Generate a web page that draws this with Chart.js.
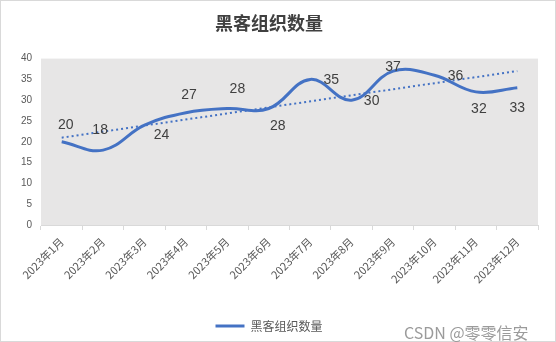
<!DOCTYPE html>
<html>
<head>
<meta charset="utf-8">
<script src="https://cdn.jsdelivr.net/npm/chart.js@4.4.0/dist/chart.umd.min.js"></script>
<style>
  html, body { margin: 0; padding: 0; background: #fff; }
  #wrap { position: relative; width: 556px; height: 342px; }
  #frame { position: absolute; left: 0; top: 0; width: 556px; height: 342px; box-sizing: border-box; border: 1px solid #d9d9d9; pointer-events: none; }
  #mark { position: absolute; left: 404px; top: 320px; font: 16px "Noto Sans CJK SC", "Noto Sans", sans-serif; color: #9b9b9b; white-space: nowrap; }
</style>
</head>
<body>
<div id="wrap">
  <canvas id="chart" width="556" height="342"></canvas>
  <div id="frame"></div>
  <div id="mark">CSDN @零零信安</div>
</div>
<script>
// 数据
const months = ['2023年1月', '2023年2月', '2023年3月', '2023年4月', '2023年5月', '2023年6月',
  '2023年7月', '2023年8月', '2023年9月', '2023年10月', '2023年11月', '2023年12月'];
const hackerGroups = [20, 18, 24, 27, 28, 28, 35, 30, 37, 36, 32, 33];
// 趋势线两端
const trendLine = [21, null, null, null, null, null, null, null, null, null, null, 37];
const yTicks = [0, 5, 10, 15, 20, 25, 30, 35, 40];

// 数据标签偏移（相对于点）
const labelShift = [[4, -17], [-3, -20], [17, 10], [3, -18], [10, -19], [9, 18],
  [21, 1], [20, 1], [0, -4], [21, 1], [3, 17], [0, 20]];

const plotBg = {
  id: 'plotBg',
  beforeDraw(chart) {
    const { ctx, chartArea: a } = chart;
    ctx.save();
    ctx.fillStyle = '#e7e6e6';
    ctx.fillRect(a.left, a.top, a.right - a.left, a.bottom - a.top);
    ctx.restore();
  }
};

const valueLabels = {
  id: 'valueLabels',
  afterDatasetsDraw(chart) {
    const ctx = chart.ctx;
    const meta = chart.getDatasetMeta(0);
    ctx.save();
    ctx.font = '14px "Liberation Sans", Arial, sans-serif';
    ctx.fillStyle = '#404040';
    ctx.textAlign = 'center';
    ctx.textBaseline = 'middle';
    meta.data.forEach((pt, i) => {
      const s = labelShift[i];
      ctx.fillText(String(hackerGroups[i]), pt.x + s[0], pt.y + s[1]);
    });
    ctx.restore();
  }
};

new Chart(document.getElementById('chart'), {
  type: 'line',
  data: {
    labels: months,
    datasets: [
      {
        label: '黑客组织数量',
        data: hackerGroups,
        borderColor: '#4472c4',
        backgroundColor: '#4472c4',
        borderWidth: 3,
        tension: 0.4,
        pointRadius: 0,
        fill: false
      },
      {
        label: 'trend',
        data: trendLine,
        borderColor: '#4472c4',
        borderWidth: 2,
        borderDash: [2, 3],
        pointRadius: 0,
        spanGaps: true,
        tension: 0,
        fill: false
      }
    ]
  },
  options: {
    responsive: false,
    animation: false,
    layout: { padding: { left: 0, right: 18, top: 0, bottom: 0 } },
    scales: {
      x: {
        offset: true,
        grid: { offset: true, drawOnChartArea: false, drawTicks: true, tickLength: 5, color: '#d9d9d9' },
        border: { display: true, color: '#d9d9d9' },
        ticks: {
          color: '#595959',
          font: { size: 11, family: '"Noto Sans CJK SC", sans-serif' },
          maxRotation: 45,
          minRotation: 45,
          autoSkip: false,
          padding: 5
        },
        afterFit(scale) { scale.height = 86; }
      },
      y: {
        min: 0,
        max: 40,
        afterBuildTicks(scale) { scale.ticks = yTicks.map(v => ({ value: v })); },
        grid: { display: false, drawTicks: false },
        border: { display: false },
        ticks: {
          color: '#595959',
          font: { size: 10, family: '"Liberation Sans", Arial, sans-serif' },
          padding: 9
        },
        afterFit(scale) { scale.width = 41; }
      }
    },
    plugins: {
      title: {
        display: true,
        text: '黑客组织数量',
        color: '#404040',
        font: { size: 18, weight: 'bold', family: '"Noto Sans CJK SC", sans-serif' },
        padding: { top: 12, bottom: 25 }
      },
      legend: {
        position: 'bottom',
        labels: {
          filter: item => item.datasetIndex === 0,
          usePointStyle: true,
          pointStyle: 'line',
          pointStyleWidth: 29,
          color: '#595959',
          font: { size: 12, family: '"Noto Sans CJK SC", sans-serif' },
          padding: 9
        }
      },
      tooltip: { enabled: false }
    }
  },
  plugins: [plotBg, valueLabels]
});
</script>
</body>
</html>
